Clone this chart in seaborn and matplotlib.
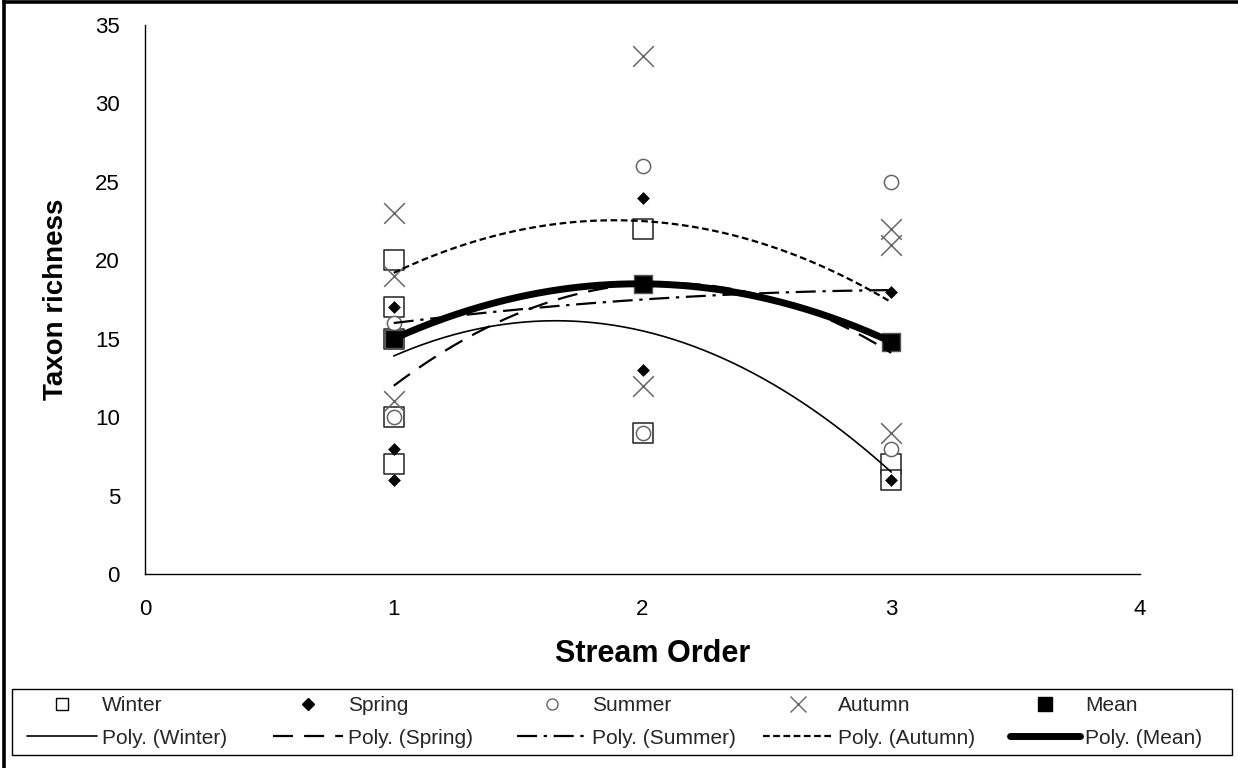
import numpy as np
import pandas as pd
import matplotlib
matplotlib.use("Agg")
import matplotlib.pyplot as plt
from matplotlib.lines import Line2D
from matplotlib.patches import Rectangle
import seaborn as sns

# ---------------- data ----------------
seasons = ["Winter", "Spring", "Summer", "Autumn"]
winter_x = [1, 1, 1, 1, 1, 2, 2, 3, 3]
winter_y = [20, 17, 15, 10, 7, 22, 9, 7, 6]
spring_x = [1, 1, 1, 2, 2, 3, 3]
spring_y = [17, 8, 6, 24, 13, 18, 6]
summer_x = [1, 1, 2, 2, 3, 3]
summer_y = [16, 10, 26, 9, 25, 8]
autumn_x = [1, 1, 1, 2, 2, 3, 3, 3]
autumn_y = [23, 19, 11, 33, 12, 22, 21, 9]
mean_x = [1, 2, 3]
mean_y = [15, 18.5, 14.8]

# values of the Excel polynomial (order 2) trendlines at stream orders 1, 2, 3
trend_orders = [1, 2, 3]
trend_winter = [13.9, 15.5, 6.5]
trend_spring = [12.0, 18.5, 14.1]
trend_summer = [16.0, 17.5, 18.1]
trend_autumn = [19.2, 22.5, 17.33]
trend_mean = [15.0, 18.5, 14.8]

x_ticks = [0, 1, 2, 3, 4]
y_ticks = [0, 5, 10, 15, 20, 25, 30, 35]

# ---------------- style ----------------
sns.set_style("white")
plt.rcParams["font.family"] = ["Liberation Sans", "DejaVu Sans"]

W, H = 1238, 768
fig = plt.figure(figsize=(W / 100, H / 100), dpi=100)
ax = fig.add_axes([145 / W, 1 - 574 / H, (1140 - 145) / W, (574 - 25) / H])

# ---------------- trendlines ----------------
xs = np.linspace(1, 3, 200)
trend_specs = [
    ("Poly. (Winter)", trend_winter, dict(lw=1.2, ls="-")),
    ("Poly. (Spring)", trend_spring, dict(lw=1.6, ls=(0, (9, 5)))),
    ("Poly. (Summer)", trend_summer, dict(lw=1.6, ls=(0, (9, 3, 1.5, 3)))),
    ("Poly. (Autumn)", trend_autumn, dict(lw=1.6, ls=(0, (3, 1.6)))),
    ("Poly. (Mean)", trend_mean, dict(lw=5.0, ls="-")),
]
trend_handles = []
for name, vals, st in trend_specs:
    coef = np.polyfit(trend_orders, vals, 2)
    df = pd.DataFrame({"x": xs, "y": np.polyval(coef, xs)})
    sns.lineplot(data=df, x="x", y="y", ax=ax, color="black",
                 linewidth=st["lw"], linestyle=st["ls"], zorder=4)
    trend_handles.append(Line2D([], [], color="black", lw=st["lw"], ls=st["ls"]))

# ---------------- scatter ----------------
def scat(x, y, **kw):
    df = pd.DataFrame({"x": x, "y": y})
    sns.scatterplot(data=df, x="x", y="y", ax=ax, legend=False, zorder=3, **kw)

scat(winter_x, winter_y, marker="s", s=215, facecolor="white", edgecolor="#222222", linewidth=1.1)
scat(spring_x, spring_y, marker="D", s=36, color="black", edgecolor="black", linewidth=0.5)
scat(summer_x, summer_y, marker="o", s=105, facecolor="white", edgecolor="#666666", linewidth=1.1)
scat(autumn_x, autumn_y, marker="x", s=220, color="#666666", linewidth=1.1)
scat(mean_x, mean_y, marker="s", s=160, color="black", edgecolor="#555555", linewidth=1.0)

# ---------------- axes ----------------
ax.set_xlim(0, 4)
ax.set_ylim(0, 35)
ax.set_xticks(x_ticks)
ax.set_yticks(y_ticks)
ax.set_xticklabels([str(v) for v in x_ticks])
ax.set_yticklabels([str(v) for v in y_ticks])
for side in ["top", "right"]:
    ax.spines[side].set_visible(False)
for side in ["left", "bottom"]:
    ax.spines[side].set_color("black")
    ax.spines[side].set_linewidth(1.0)
ax.tick_params(axis="both", direction="inout", length=10, width=1, color="black",
               labelsize=16, labelcolor="black", pad=13)
ax.set_xlabel("Stream Order", fontsize=22, fontweight="bold", color="black")
ax.set_ylabel("Taxon richness", fontsize=20, fontweight="bold", color="black")
ax.xaxis.set_label_coords(0.51, -0.118)
ax.yaxis.set_label_coords(-0.076, 0.5)
ax.grid(False)

# ---------------- legend (5 equal columns, 2 rows) ----------------
marker_handles = [
    Line2D([], [], ls="none", marker="s", ms=8, mfc="white", mec="black", mew=1),
    Line2D([], [], ls="none", marker="D", ms=6, mfc="black", mec="black"),
    Line2D([], [], ls="none", marker="o", ms=8, mfc="white", mec="#666666", mew=1),
    Line2D([], [], ls="none", marker="x", ms=11, mec="#666666", mew=1),
    Line2D([], [], ls="none", marker="s", ms=10, mfc="black", mec="black"),
]
labels_m = seasons + ["Mean"]
col_x = [27, 273, 517, 763, 1010]
for cx, mh, lab, th, spec in zip(col_x, marker_handles, labels_m, trend_handles, trend_specs):
    fig.legend([mh, th], [lab, spec[0]], loc="upper left",
               bbox_to_anchor=(cx / W, 1 - 696 / H), frameon=False,
               fontsize=15, handlelength=3.35, handletextpad=0.25,
               labelspacing=0.65, borderpad=0, borderaxespad=0)
fig.add_artist(Rectangle((12 / W, 1 - 755 / H), (1232 - 12) / W, (755 - 689) / H,
                         transform=fig.transFigure, fill=False, edgecolor="black", lw=1.0))

# ---------------- outer chart border (left / top) ----------------
fig.add_artist(Line2D([4 / W, 4 / W], [0, 1], transform=fig.transFigure,
                      color="black", lw=2.6))
fig.add_artist(Line2D([4 / W, 1], [1 - 1.5 / H, 1 - 1.5 / H], transform=fig.transFigure,
                      color="black", lw=2.6))

fig.savefig("out.png", dpi=100)
